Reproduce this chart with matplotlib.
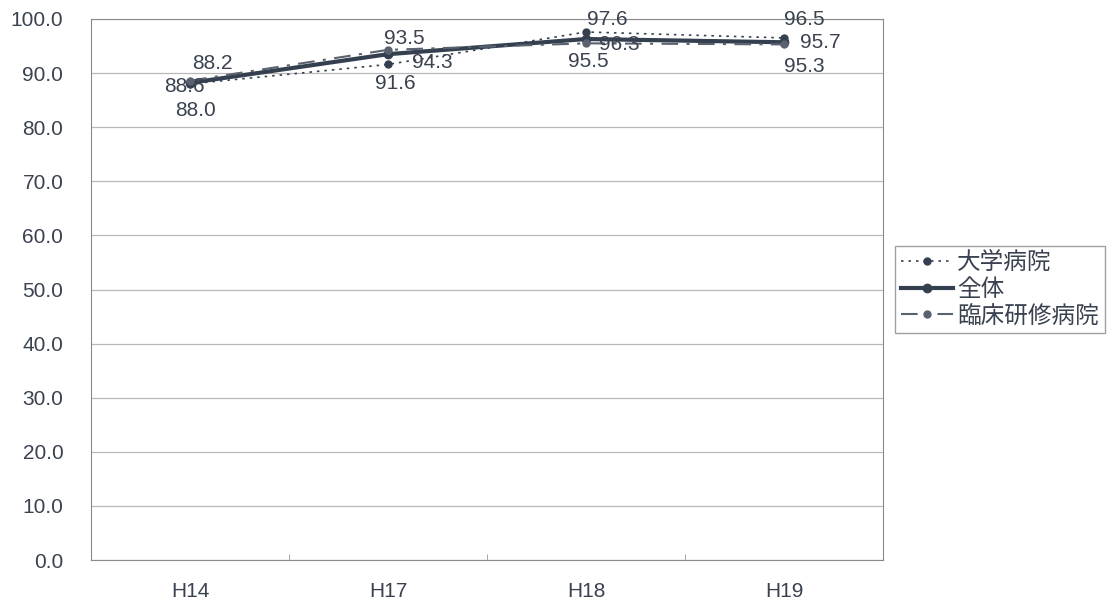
import matplotlib.pyplot as plt

plt.rcParams['font.family'] = ['Noto Sans CJK JP', 'DejaVu Sans']

years = ["H14", "H17", "H18", "H19"]
univ = [88.0, 91.6, 97.6, 96.5]      # 大学病院
total = [88.2, 93.5, 96.3, 95.7]     # 全体
clinic = [88.6, 94.3, 95.5, 95.3]    # 臨床研修病院

# label offsets in points (dx, dy) for each series
univ_off = [(4, -19), (5, -14), (15, 9), (15, 13)]
total_off = [(16, 14), (12, 11), (24, -4), (26, 0)]
clinic_off = [(-4, -4), (32, -9), (2, -13), (15, -16)]

c = "#34404f"
txt = "#3a4250"
num_font = "Liberation Sans"

fig = plt.figure(figsize=(11.13, 6.07), dpi=100)
ax = fig.add_axes([0.0818, 0.0774, 0.7115, 0.8913])

x = range(len(years))
ax.plot(x, univ, color=c, lw=1.2, ls=(0, (1.5, 3)), marker="o", ms=5, label="大学病院")
ax.plot(x, total, color=c, lw=3, ls="-", marker="o", ms=6, label="全体")
ax.plot(x, clinic, color="#5a6270", lw=1.5, ls=(0, (8, 4, 1.5, 4)), marker="o", ms=5,
        label="臨床研修病院")

for vals, offs in [(univ, univ_off), (total, total_off), (clinic, clinic_off)]:
    for i, (v, o) in enumerate(zip(vals, offs)):
        ax.annotate(f"{v:.1f}", (i, v), xytext=o, textcoords="offset points",
                    ha="center", va="center", fontsize=15, color=txt,
                    family=num_font)

ax.set_xlim(-0.5, 3.5)
ax.set_ylim(0, 100)
ax.set_yticks(range(0, 101, 10))
ax.set_yticklabels([f"{v:.1f}" for v in range(0, 101, 10)], fontsize=15, color=txt,
                   family=num_font)
ax.set_xticks(list(x))
ax.set_xticklabels(years, fontsize=15, color=txt, family=num_font)
ax.set_xticks([0.5, 1.5, 2.5], minor=True)
ax.tick_params(axis="x", which="major", length=0, pad=16)
ax.tick_params(axis="x", which="minor", length=4, direction="in", color="#999999")
ax.tick_params(axis="y", length=0, pad=20)
ax.grid(axis="y", color="#b8b8b8", lw=0.9)
ax.set_axisbelow(True)
for s in ax.spines.values():
    s.set_color("#8a8a8a")

leg = ax.legend(loc="center left", bbox_to_anchor=(1.015, 0.5), fontsize=17,
                frameon=True, fancybox=False, edgecolor="#8a8a8a",
                handlelength=2.2, handletextpad=0.2, borderpad=0.25, labelspacing=0.15,
                borderaxespad=0)
for t in leg.get_texts():
    t.set_color(txt)

fig.savefig("out.png", dpi=100)
